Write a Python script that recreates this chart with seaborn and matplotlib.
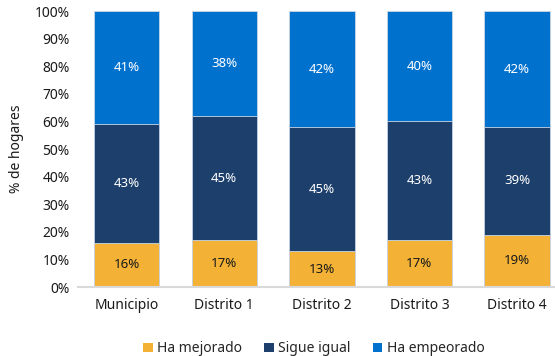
import matplotlib
matplotlib.use("Agg")
import matplotlib.pyplot as plt
import seaborn as sns
import pandas as pd
import numpy as np
from matplotlib.patches import Patch

categories = ["Municipio", "Distrito 1", "Distrito 2", "Distrito 3", "Distrito 4"]
ha_mejorado = [16, 17, 13, 17, 19]
sigue_igual = [43, 45, 45, 43, 39]
ha_empeorado = [41, 38, 42, 40, 42]

series_names = ["Ha mejorado", "Sigue igual", "Ha empeorado"]
colors = ["#F3B236", "#1C3F6B", "#0171CE"]
text_colors = ["#1a1a1a", "white", "white"]

sns.set_theme(style="white")
plt.rcParams["font.family"] = ["Noto Sans", "DejaVu Sans"]

df = pd.DataFrame({
    "categoria": categories,
    "Ha mejorado": ha_mejorado,
    "Sigue igual": sigue_igual,
    "Ha empeorado": ha_empeorado,
})
values = df[series_names].to_numpy(dtype=float)
cum = np.cumsum(values, axis=1)

fig = plt.figure(figsize=(5.55, 3.56), dpi=100)
ax = fig.add_axes([0.1405, 0.1938, 0.8595, 0.775])

# stacked bars: draw the cumulative totals from the top layer down
for i in reversed(range(len(series_names))):
    plot_df = pd.DataFrame({"categoria": categories, "valor": cum[:, i]})
    sns.barplot(data=plot_df, x="categoria", y="valor", color=colors[i],
                width=0.67, ax=ax, edgecolor="#c9d6e6", linewidth=0.6,
                saturation=1, errorbar=None)

for j in range(len(categories)):
    base = 0
    for i in range(len(series_names)):
        v = values[j, i]
        ax.text(j, base + v / 2, f"{int(v)}%", ha="center", va="center",
                color=text_colors[i], fontsize=9.5)
        base += v

ax.set_xlim(-0.5, 4.39)
ax.set_ylim(0, 100)
ax.set_yticks(np.arange(0, 101, 10))
ax.set_yticklabels([f"{t}%" for t in range(0, 101, 10)], fontsize=10, color="#1a1a1a")
ax.tick_params(axis="x", labelsize=10, colors="#1a1a1a", length=0, pad=8)
ax.tick_params(axis="y", length=0, pad=6)
ax.set_xlabel("")
ax.set_ylabel("% de hogares", fontsize=10, color="#1a1a1a", labelpad=8)

for side in ["top", "right", "left"]:
    ax.spines[side].set_visible(False)
ax.spines["bottom"].set_color("#d9d9d9")
ax.spines["bottom"].set_linewidth(1.5)

handles = [Patch(facecolor=c, edgecolor="none") for c in colors]
fig.legend(handles, series_names, loc="center", bbox_to_anchor=(0.565, 0.02),
           ncol=3, frameon=False, fontsize=10, handlelength=0.7, handleheight=0.7,
           handletextpad=0.3, columnspacing=1.6)

fig.savefig("out.png", dpi=100)
